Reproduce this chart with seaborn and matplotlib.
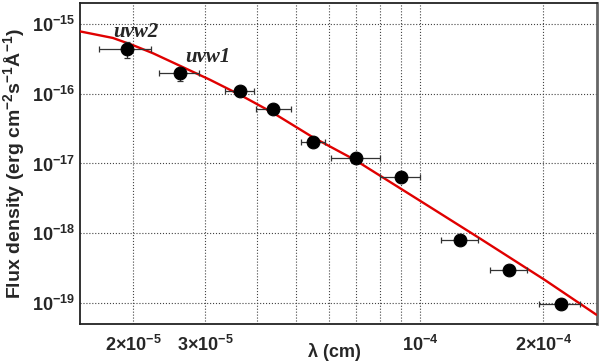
import numpy as np
import pandas as pd
import matplotlib
matplotlib.use("Agg")
import matplotlib.pyplot as plt
import matplotlib.ticker as mticker
import seaborn as sns

# photometric points (wavelength in cm, flux in erg cm^-2 s^-1 A^-1)
lam = [1.93e-5, 2.60e-5, 3.64e-5, 4.38e-5, 5.49e-5, 7.00e-5, 9.01e-5, 1.25e-4, 1.65e-4, 2.21e-4]
lam_lo = [1.65e-5, 2.31e-5, 3.35e-5, 3.98e-5, 5.12e-5, 6.09e-5, 7.98e-5, 1.127e-4, 1.48e-4, 1.95e-4]
lam_hi = [2.21e-5, 2.90e-5, 3.94e-5, 4.84e-5, 5.86e-5, 7.98e-5, 1.003e-4, 1.384e-4, 1.82e-4, 2.45e-4]
flux = [4.43e-16, 1.98e-16, 1.11e-16, 6.04e-17, 2.03e-17, 1.20e-17, 6.33e-18, 8.09e-19, 2.93e-19, 9.77e-20]
flux_lo = [3.29e-16, 1.50e-16, 1.02e-16, 5.6e-17, 1.9e-17, 1.12e-17, 5.9e-18, 6.9e-19, 2.6e-19, 9.2e-20]
flux_hi = [5.45e-16, 2.29e-16, 1.20e-16, 6.5e-17, 2.16e-17, 1.28e-17, 6.8e-18, 9.2e-19, 3.3e-19, 1.04e-19]

# model curve
model_lam = [1.486e-5, 1.788e-5, 2.0e-5, 2.237e-5, 2.602e-5, 3.078e-5, 3.64e-5, 4.381e-5,
             5.483e-5, 6.937e-5, 9.024e-5, 1.074e-4, 1.397e-4, 2.01e-4, 2.691e-4]
model_flux = [7.83e-16, 6.30e-16, 4.97e-16, 3.81e-16, 2.52e-16, 1.59e-16, 9.69e-17, 5.35e-17,
              2.38e-17, 1.13e-17, 4.28e-18, 2.25e-18, 8.49e-19, 2.16e-19, 6.79e-20]

filters = ["uvw2", "uvw1"]
filter_pos = [(1.79e-5, 6.57e-16), (2.68e-5, 2.88e-16)]

xticks = [2e-5, 3e-5, 1e-4, 2e-4]
xticklabels = ["2×10$^{-5}$", "3×10$^{-5}$", "10$^{-4}$", "2×10$^{-4}$"]
yticks = [1e-19, 1e-18, 1e-17, 1e-16, 1e-15]
yticklabels = ["10$^{-19}$", "10$^{-18}$", "10$^{-17}$", "10$^{-16}$", "10$^{-15}$"]

sns.set_style("white")
plt.rcParams["font.family"] = ["Liberation Sans", "DejaVu Sans"]
plt.rcParams["font.weight"] = "bold"
plt.rcParams["mathtext.fontset"] = "custom"
plt.rcParams["mathtext.rm"] = "Liberation Sans:bold"
plt.rcParams["mathtext.bf"] = "Liberation Sans:bold"
plt.rcParams["mathtext.default"] = "rm"

pts = pd.DataFrame({"lam": lam, "flux": flux})
model = pd.DataFrame({"lam": model_lam, "flux": model_flux})

fig = plt.figure(figsize=(6, 3.64), dpi=100)
ax = fig.add_axes([0.1333, 0.1099, 0.8617, 0.8819])

ax.set_xscale("log")
ax.set_yscale("log")

sns.lineplot(data=model, x="lam", y="flux", color="#e00000", lw=1.7, ax=ax, zorder=3)

xerr = [np.array(lam) - np.array(lam_lo), np.array(lam_hi) - np.array(lam)]
yerr = [np.array(flux) - np.array(flux_lo), np.array(flux_hi) - np.array(flux)]
ax.errorbar(lam, flux, xerr=xerr, yerr=yerr, fmt="none", ecolor="#333333",
            elinewidth=0.9, capsize=2, capthick=0.9, zorder=4)
sns.scatterplot(data=pts, x="lam", y="flux", color="black", s=85, edgecolor="black",
                ax=ax, zorder=5)

for name, (tx, ty) in zip(filters, filter_pos):
    ax.text(tx, ty, name, family="Liberation Serif", style="italic", weight="bold",
            fontsize=15, ha="left", va="baseline")

ax.set_xlim(1.486e-5, 2.70e-4)
ax.set_ylim(5e-20, 2e-15)

ax.xaxis.set_major_locator(mticker.FixedLocator(xticks))
ax.xaxis.set_major_formatter(mticker.FixedFormatter(xticklabels))
ax.xaxis.set_minor_locator(mticker.FixedLocator([4e-5, 5e-5, 6e-5, 7e-5, 8e-5, 9e-5]))
ax.xaxis.set_minor_formatter(mticker.NullFormatter())
ax.yaxis.set_major_locator(mticker.FixedLocator(yticks))
ax.yaxis.set_major_formatter(mticker.FixedFormatter(yticklabels))
ax.yaxis.set_minor_locator(mticker.LogLocator(base=10, subs=np.arange(2, 10), numticks=10))
ax.yaxis.set_minor_formatter(mticker.NullFormatter())

ax.grid(True, which="major", ls=":", color="#444444", lw=0.8)
ax.grid(True, which="minor", axis="x", ls=":", color="#444444", lw=0.8)

ax.tick_params(axis="both", which="major", direction="in", labelsize=13, length=7, width=1)
ax.tick_params(axis="both", which="minor", direction="in", length=4, width=0.8)
ax.tick_params(axis="x", pad=8)
for s in ax.spines.values():
    s.set_linewidth(1.3)
    s.set_color("#222222")
ax.spines["right"].set_color("#666666")
ax.spines["right"].set_linewidth(2)

ax.set_xlabel("λ (cm)", fontsize=13, fontweight="bold", va="top")
ax.set_ylabel("Flux density (erg cm$^{-2}$s$^{-1}$Å$^{-1}$)", fontsize=14, fontweight="bold")
ax.xaxis.set_label_coords(0.493, -0.059)
ax.yaxis.set_label_coords(-0.103, 0.5)

fig.savefig("out.png", dpi=100)
